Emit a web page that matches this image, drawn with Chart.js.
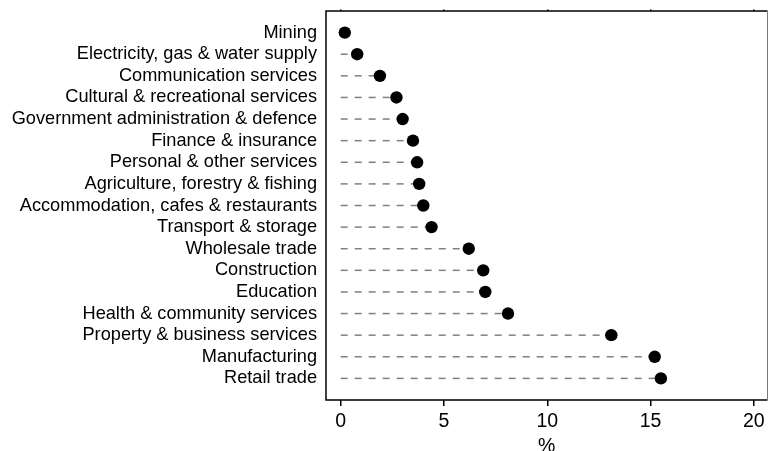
<!DOCTYPE html>
<html>
<head>
<meta charset="utf-8">
<script src="https://cdn.jsdelivr.net/npm/chart.js@4"></script>
<style>
  html, body { margin: 0; padding: 0; background: #fff; }
  canvas { display: block; }
</style>
</head>
<body>
<canvas id="chart" width="768" height="451"></canvas>
<script>
/* Industry share dot plot: dashed stem from 0 to each dot. */

const categories = [
  "Mining",
  "Electricity, gas & water supply",
  "Communication services",
  "Cultural & recreational services",
  "Government administration & defence",
  "Finance & insurance",
  "Personal & other services",
  "Agriculture, forestry & fishing",
  "Accommodation, cafes & restaurants",
  "Transport & storage",
  "Wholesale trade",
  "Construction",
  "Education",
  "Health & community services",
  "Property & business services",
  "Manufacturing",
  "Retail trade",
];
const values = [0.2, 0.8, 1.9, 2.7, 3.0, 3.5, 3.7, 3.8, 4.0, 4.4, 6.2, 6.9, 7.0, 8.1, 13.1, 15.2, 15.5];
const xTicks = [0, 5, 10, 15, 20];
const xTitle = "%";

const FAMILY = "'Liberation Sans', Arial, sans-serif";
const LABEL_FONT = { family: FAMILY, size: 18.2 };
const TICK_FONT = { family: FAMILY, size: 19.5 };

// one dashed stem per category
const stems = values.map((v, i) => ({
  type: "line",
  data: [{ x: 0, y: i }, { x: v, y: i }],
  borderColor: "#808080",
  borderWidth: 1.5,
  borderDash: [7, 7],
  pointRadius: 0,
  fill: false,
  order: 2,
}));

const dots = {
  type: "scatter",
  data: values.map((v, i) => ({ x: v, y: i })),
  backgroundColor: "#000",
  borderWidth: 0,
  pointRadius: 6.2,
  order: 1,
};

// box round the plot area (right edge is a thin grey line in the original)
const frame = {
  id: "frame",
  afterDraw(chart) {
    const { ctx, chartArea: a } = chart;
    ctx.save();
    ctx.strokeStyle = "#000";
    ctx.lineWidth = 1.5;
    ctx.beginPath();
    ctx.moveTo(a.right, a.top);
    ctx.lineTo(a.left, a.top);
    ctx.lineTo(a.left, a.bottom);
    ctx.lineTo(a.right, a.bottom);
    ctx.stroke();
    ctx.strokeStyle = "#7a7a7a";
    ctx.lineWidth = 1;
    ctx.beginPath();
    ctx.moveTo(a.right, a.top);
    ctx.lineTo(a.right, a.bottom);
    ctx.stroke();
    ctx.restore();
  },
};

new Chart(document.getElementById("chart").getContext("2d"), {
  data: { datasets: [dots, ...stems] },
  plugins: [frame],
  options: {
    responsive: false,
    animation: false,
    layout: { autoPadding: false, padding: { top: 11, right: 0.5, left: 0, bottom: 0 } },
    plugins: { legend: { display: false }, tooltip: { enabled: false } },
    scales: {
      x: {
        type: "linear",
        position: "bottom",
        min: -0.71,
        max: 20.66,
        afterBuildTicks: (s) => { s.ticks = xTicks.map((value) => ({ value })); },
        afterFit: (s) => { s.height = 51; s.paddingLeft = 0; s.paddingRight = 0; },
        ticks: { color: "#000", font: TICK_FONT, padding: 4, autoSkip: false, maxRotation: 0 },
        grid: { drawOnChartArea: false, drawTicks: true, tickLength: 6, color: "#000", lineWidth: 1.5 },
        border: { display: false },
        title: { display: true, text: xTitle, color: "#000", font: TICK_FONT, padding: { top: 0, bottom: -7 } },
      },
      xTop: {
        type: "linear",
        position: "top",
        min: -0.71,
        max: 20.66,
        afterBuildTicks: (s) => { s.ticks = xTicks.map((value) => ({ value })); },
        afterFit: (s) => { s.height = 0; s.paddingLeft = 0; s.paddingRight = 0; },
        ticks: { display: false },
        grid: { drawOnChartArea: false, drawTicks: true, tickLength: 1.5, color: "#000", lineWidth: 1.5 },
        border: { display: false },
      },
      y: {
        type: "linear",
        reverse: true,
        min: -1,
        max: 17,
        afterBuildTicks: (s) => { s.ticks = categories.map((_, value) => ({ value })); },
        afterFit: (s) => { s.width = 326; s.paddingTop = 0; s.paddingBottom = 0; },
        ticks: {
          color: "#000",
          font: LABEL_FONT,
          padding: 9,
          autoSkip: false,
          callback: (v) => categories[v],
        },
        grid: { display: false, drawTicks: false },
        border: { display: false },
      },
    },
  },
});
</script>
</body>
</html>
